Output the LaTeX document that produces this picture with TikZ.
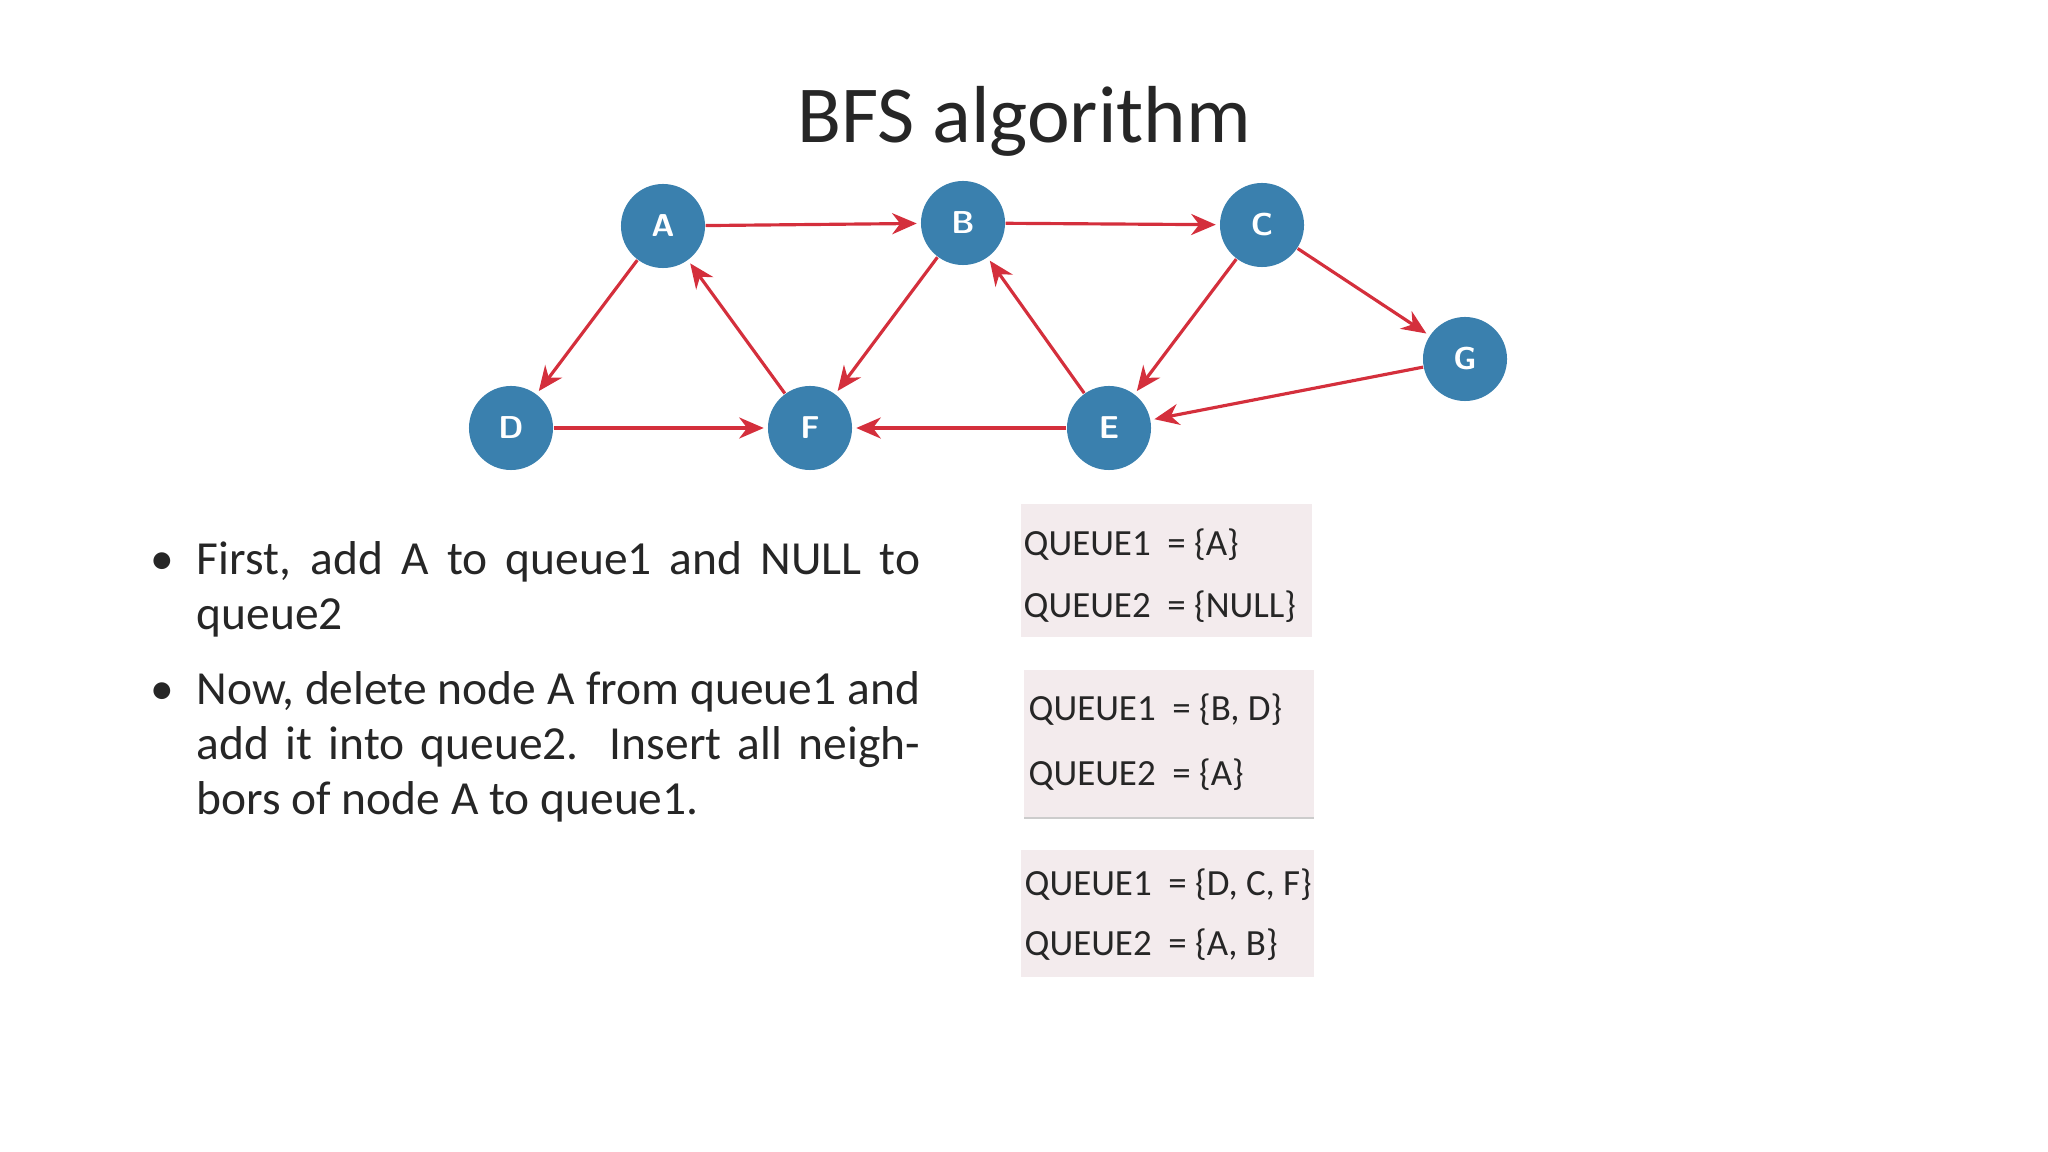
\documentclass[tikz,border=0pt]{standalone}
\usepackage{fontspec}
\setmainfont{Carlito}
\usetikzlibrary{arrows.meta}
\definecolor{nodeblue}{HTML}{3A80AE}
\definecolor{edgered}{HTML}{D42F3C}
\definecolor{boxfill}{HTML}{F3EBED}
\begin{document}
\begin{tikzpicture}[x=0.01cm,y=-0.01cm,
  vert/.style={circle,fill=nodeblue,minimum size=0.84cm,inner sep=0pt,text=white,font=\sffamily\bfseries\fontsize{9pt}{9pt}\selectfont},
  edge/.style={draw=edgered,line width=0.9pt,-{Stealth[length=7pt,width=6pt]},shorten >=1pt},
  q/.style={anchor=base west,inner sep=0pt,text=black!85,font=\fontsize{10.5pt}{12pt}\selectfont},
  qbox/.style={fill=boxfill,draw=none}]
\useasboundingbox (0,0) rectangle (2048,1152);
\node[font=\fontsize{23pt}{27pt}\selectfont,text=black!85] (title) at (1024,121) {BFS algorithm};
\node[vert] (A) at (663,226) {A};
\node[vert] (B) at (963,223) {B};
\node[vert] (C) at (1262,225) {C};
\node[vert] (G) at (1465,359) {G};
\node[vert] (D) at (511,428) {D};
\node[vert] (F) at (810,428) {F};
\node[vert] (E) at (1109,428) {E};
\draw[edge] (A) -- (B);
\draw[edge] (B) -- (C);
\draw[edge] (C) -- (G);
\draw[edge] (G) -- (E);
\draw[edge] (E) -- (F);
\draw[edge] (D) -- (F);
\draw[edge] (A) -- (D);
\draw[edge] (F) -- (A);
\draw[edge] (B) -- (F);
\draw[edge] (E) -- (B);
\draw[edge] (C) -- (E);
\node[anchor=north west,inner sep=0pt,text width=7.23cm,align=justify,text=black!85,
  font=\fontsize{13.5pt}{15.6pt}\selectfont] (bul) at (196,541) {%
\makebox[0pt][r]{\textbullet\hspace{6.5pt}}First, add A to queue1 and NULL to queue2\par
\vspace{5.7pt}
\makebox[0pt][r]{\textbullet\hspace{6.5pt}}Now, delete node A from queue1 and add it into queue2. Insert all neighbors of node A to queue1.\par};
\fill[qbox] (1021,504) rectangle (1312,637);
\fill[qbox] (1024,670) rectangle (1314,818);
\draw[black!20] (1024,818) -- (1314,818);
\fill[qbox] (1021,850) rectangle (1314,977);
\node[q] (q11) at (1023,555) {QUEUE1 \ = \{A\}};
\node[q] (q12) at (1023,617) {QUEUE2 \ = \{NULL\}};
\node[q] (q21) at (1028,720) {QUEUE1 \ = \{B, D\}};
\node[q] (q22) at (1028,785) {QUEUE2 \ = \{A\}};
\node[q] (q31) at (1024,895) {QUEUE1 \ = \{D, C, F\}};
\node[q] (q32) at (1024,955) {QUEUE2 \ = \{A, B\}};
\end{tikzpicture}
\end{document}
